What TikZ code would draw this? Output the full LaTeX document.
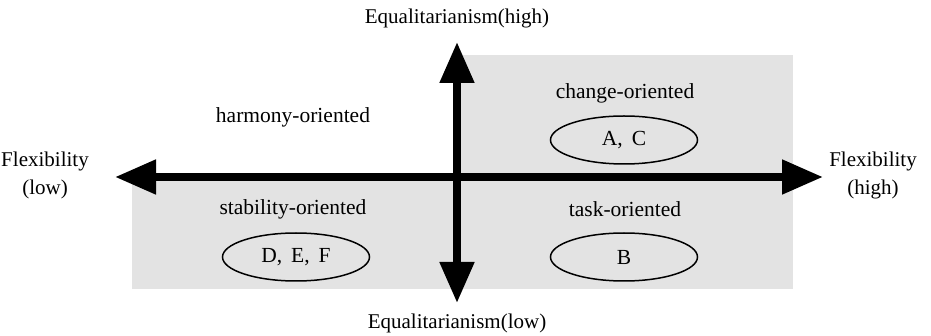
\documentclass[tikz,border=0pt]{standalone}
\usepackage{fontspec}
\setmainfont{Liberation Serif}
\usepackage{tikz}
\usetikzlibrary{
  arrows.meta,      % 三角形箭头
  shapes.geometric, % 椭圆节点
  positioning       % 节点相对定位
}
\tikzset{
  axis arrow/.style={
    {Triangle[length=41pt, width=33pt]}-{Triangle[length=41pt, width=33pt]},
    line width=8pt,
    draw=black
  },
  quad fill/.style={
    fill=black!11,
    draw=none
  },
  quad label/.style={
    font=\fontsize{21.5}{25}\selectfont,
    inner sep=0pt
  },
  group oval/.style={
    ellipse,
    draw=black,
    line width=1.5pt,
    minimum width=147pt,
    minimum height=48pt,
    inner sep=0pt,
    font=\fontsize{21.5}{25}\selectfont
  },
  axis label/.style={
    font=\fontsize{21}{25}\selectfont,
    align=center,
    inner sep=0pt
  }
}

\begin{document}
\begin{tikzpicture}[x=1pt, y=-1pt, line join=miter]
  % 画布大小（按像素坐标，y 轴向下）
  \useasboundingbox (0,0) rectangle (931,336);

  % ===================================
  % 灰色背景区域
  % ===================================
  \fill[quad fill] (132,178) rectangle (793,289);
  \fill[quad fill] (457,55) rectangle (793,178);

  % ===================================
  % 坐标轴端点与十字轴
  % ===================================
  \coordinate (FlexLow)  at (115,177);
  \coordinate (FlexHigh) at (823,177);
  \coordinate (EqHigh)   at (457,42);
  \coordinate (EqLow)    at (457,303);

  \draw[axis arrow] (FlexLow) -- (FlexHigh);
  \draw[axis arrow] (EqLow) -- (EqHigh);

  % 轴标签
  \node[axis label] (eqhigh) at (457,18) {Equalitarianism(high)};
  \node[axis label] (eqlow)  at (457,323) {Equalitarianism(low)};
  \node[axis label] (flexlow)  at (45,175)
    {Flexibility\\[3pt](low)};
  \node[axis label] (flexhigh) at (873,175)
    {Flexibility\\[3pt](high)};

  % ===================================
  % 四个象限的文字与椭圆
  % ===================================
  \node[quad label] (harmony)   at (293,117) {harmony-oriented};
  \node[quad label] (stability) at (293,209) {stability-oriented};
  \node[quad label] (change)    at (625,93)  {change-oriented};
  \node[quad label] (task)      at (625,209) {task-oriented};

  \node[group oval] (groupAC)  at (624,140) {A,\, C};
  \node[group oval] (groupDEF) at (296,257) {D,\, E,\, F};
  \node[group oval] (groupB)   at (624,257) {B};

\end{tikzpicture}
\end{document}
